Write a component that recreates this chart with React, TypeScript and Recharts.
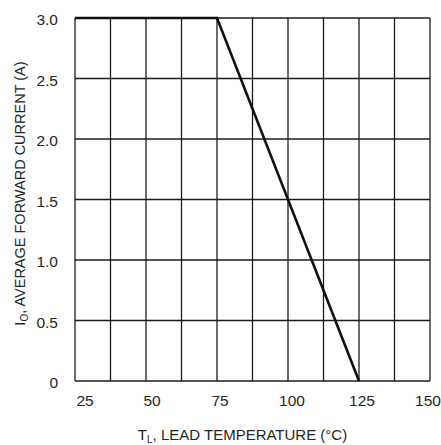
import React from "react";
import { LineChart, Line, XAxis, YAxis, CartesianGrid, Label } from "recharts";

const temperatures = [25, 75, 125];
const currents = [3.0, 3.0, 0];

const xGridTicks = [25, 37.5, 50, 62.5, 75, 87.5, 100, 112.5, 125, 137.5, 150];
const xLabelTicks = [25, 50, 75, 100, 125, 150];
const xLabelShift = [10, 6, 3, 4, 3, -2];
const yTicks = [0, 0.5, 1.0, 1.5, 2.0, 2.5, 3.0];

const data = temperatures.map((t, i) => ({ t, i: currents[i] }));

const FONT = "'Liberation Sans', Arial, Helvetica, sans-serif";
const TEXT = "#262626";

const XTick = (props: any) => {
  const { x, y, payload } = props;
  const idx = xLabelTicks.indexOf(payload.value);
  if (idx < 0) return null;
  return (
    <text x={x + xLabelShift[idx]} y={y + 23} textAnchor="middle" fontSize={15.5} fontFamily={FONT} fill={TEXT}>
      {payload.value}
    </text>
  );
};

const YTick = (props: any) => {
  const { x, y, payload } = props;
  const v = payload.value;
  return (
    <text x={x} y={y + 7} textAnchor="end" fontSize={15.5} fontFamily={FONT} fill={TEXT}>
      {v === 0 ? "0" : v.toFixed(1)}
    </text>
  );
};

const XTitle = (props: any) => {
  const vb = props.viewBox || {};
  const cx = vb.x + vb.width / 2 - 10;
  return (
    <text x={cx} y={440} textAnchor="middle" fontSize={15} fontFamily={FONT} fill={TEXT}>
      <tspan>T</tspan>
      <tspan fontSize={10} dy={3}>L</tspan>
      <tspan dy={-3}>,  LEAD TEMPERATURE (°C)</tspan>
    </text>
  );
};

const YTitle = (props: any) => {
  const vb = props.viewBox || {};
  const cy = vb.y + vb.height / 2 - 6;
  const cx = 25;
  return (
    <text
      x={cx}
      y={cy}
      textAnchor="middle"
      fontSize={14.5}
      fontFamily={FONT}
      fill={TEXT}
      transform={`rotate(-90, ${cx}, ${cy})`}
    >
      <tspan>I</tspan>
      <tspan fontSize={10} dy={3}>O</tspan>
      <tspan dy={-3}>, AVERAGE FORWARD CURRENT (A)</tspan>
    </text>
  );
};

export default function App() {
  return (
    <div style={{ position: "absolute", left: 0, top: 0, width: 441, height: 445, background: "#fff" }}>
      <LineChart width={441} height={445} data={data} margin={{ top: 18, right: 11, bottom: 0, left: 0 }}>
        <CartesianGrid stroke="#1c1c1c" strokeWidth={1.3} />
        <XAxis
          dataKey="t"
          type="number"
          domain={[25, 150]}
          ticks={xGridTicks}
          interval={0}
          tick={<XTick />}
          tickLine={false}
          tickSize={0}
          axisLine={false}
          height={64}
        >
          <Label content={<XTitle />} />
        </XAxis>
        <YAxis
          type="number"
          domain={[0, 3]}
          ticks={yTicks}
          interval={0}
          tick={<YTick />}
          tickLine={false}
          tickSize={0}
          tickMargin={17}
          axisLine={false}
          width={75}
        >
          <Label content={<YTitle />} />
        </YAxis>
        <Line
          type="linear"
          dataKey="i"
          stroke="#111"
          strokeWidth={2.6}
          dot={false}
          activeDot={false}
          isAnimationActive={false}
        />
      </LineChart>
    </div>
  );
}
